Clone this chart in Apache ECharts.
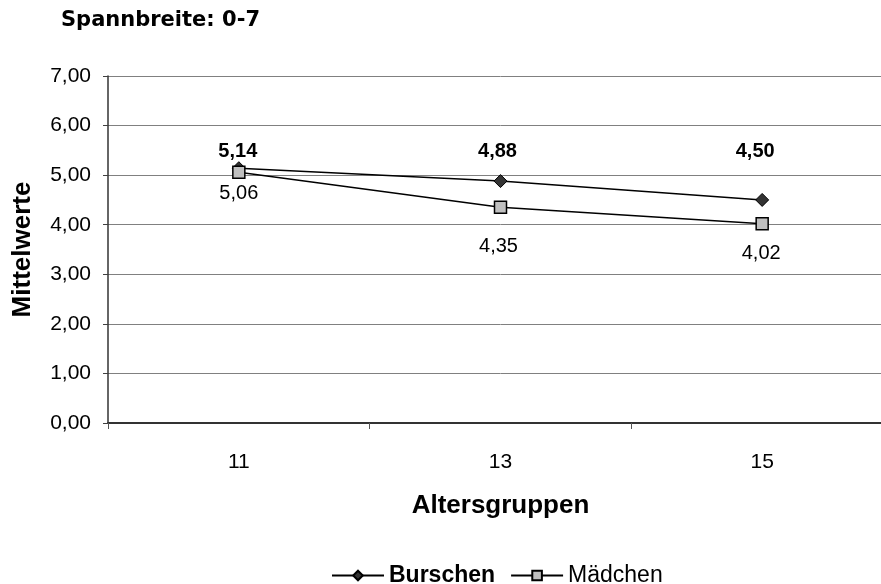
<!DOCTYPE html>
<html>
<head>
<meta charset="utf-8">
<script src="https://cdn.jsdelivr.net/npm/echarts@6/dist/echarts.min.js"></script>
<style>
  html, body { margin: 0; padding: 0; background: #ffffff; overflow: hidden; }
  /* the plot area runs slightly past the right edge of the page */
  #chart { width: 900px; height: 584px; }
</style>
</head>
<body>
<div id="chart"></div>
<script>
// Mean scores by age group (range 0-7)
const categories = ['11', '13', '15'];
const burschen = [5.14, 4.88, 4.50];
const maedchen = [5.06, 4.35, 4.02];
const seriesNames = ['Burschen', 'Mädchen'];
const yTicks = [0, 1, 2, 3, 4, 5, 6, 7];

// Label placement relative to each marker (pixels)
const burschenLabelShift = [[-1, -17], [-3, -30], [-7, -48]];
const maedchenLabelShift = [[0, 21], [-2, 39], [-1, 30]];

const FONT = "'Liberation Sans', Arial, sans-serif";
const fmt = v => Number(v).toFixed(2).replace('.', ',');

function withLabels(values, shifts, bold) {
  return values.map((v, i) => ({
    value: v,
    label: {
      show: true,
      position: 'inside',
      offset: shifts[i],
      formatter: p => fmt(p.value),
      color: '#000',
      fontFamily: FONT,
      fontSize: 20,
      fontWeight: bold ? 'bold' : 'normal'
    }
  }));
}

const chart = echarts.init(document.getElementById('chart'));
chart.setOption({
  backgroundColor: '#ffffff',
  animation: false,
  title: {
    text: 'Spannbreite: 0-7',
    left: 56,
    top: 5,
    textStyle: {
      fontFamily: "'DejaVu Sans', Verdana, sans-serif",
      fontWeight: 'bold',
      fontSize: 21,
      color: '#000'
    }
  },
  legend: {
    left: 331,
    top: 564,
    padding: 0,
    itemWidth: 52,
    itemHeight: 12,
    itemGap: 15,
    textStyle: { fontFamily: FONT, fontSize: 23, color: '#000' },
    data: [
      { name: seriesNames[0], textStyle: { fontWeight: 'bold' } },
      { name: seriesNames[1], textStyle: { fontWeight: 'normal' } }
    ]
  },
  grid: { left: 108, top: 76, width: 785, height: 347, containLabel: false },
  xAxis: {
    type: 'category',
    data: categories,
    boundaryGap: true,
    name: 'Altersgruppen',
    nameLocation: 'middle',
    nameGap: 70,
    nameTextStyle: { fontFamily: FONT, fontSize: 26, fontWeight: 'bold', color: '#000' },
    axisLine: { show: true, lineStyle: { color: '#333333', width: 2 } },
    axisTick: { show: true, interval: 0, length: 6, lineStyle: { color: '#555555', width: 1 } },
    axisLabel: { fontFamily: FONT, fontSize: 21, color: '#000', margin: 29 },
    splitLine: { show: false }
  },
  yAxis: {
    type: 'value',
    min: yTicks[0],
    max: yTicks[yTicks.length - 1],
    interval: 1,
    name: 'Mittelwerte',
    nameLocation: 'middle',
    nameRotate: 90,
    nameGap: 72,
    nameTextStyle: { fontFamily: FONT, fontSize: 26, fontWeight: 'bold', color: '#000' },
    axisLine: { show: true, lineStyle: { color: '#333333', width: 1.5 } },
    axisTick: { show: true, length: 5, lineStyle: { color: '#404040', width: 1 } },
    axisLabel: { fontFamily: FONT, fontSize: 21, color: '#000', margin: 17, formatter: v => fmt(v) },
    splitLine: { show: true, lineStyle: { color: '#808080', width: 1 } }
  },
  series: [
    {
      name: seriesNames[0],
      type: 'line',
      data: withLabels(burschen, burschenLabelShift, true),
      symbol: 'diamond',
      symbolSize: 13,
      lineStyle: { color: '#000', width: 1.5 },
      itemStyle: { color: '#333333', borderColor: '#000', borderWidth: 1 }
    },
    {
      name: seriesNames[1],
      type: 'line',
      data: withLabels(maedchen, maedchenLabelShift, false),
      symbol: 'rect',
      symbolSize: 12,
      lineStyle: { color: '#000', width: 1.5 },
      itemStyle: { color: '#C0C0C0', borderColor: '#000', borderWidth: 1.5 }
    }
  ]
});
</script>
</body>
</html>
